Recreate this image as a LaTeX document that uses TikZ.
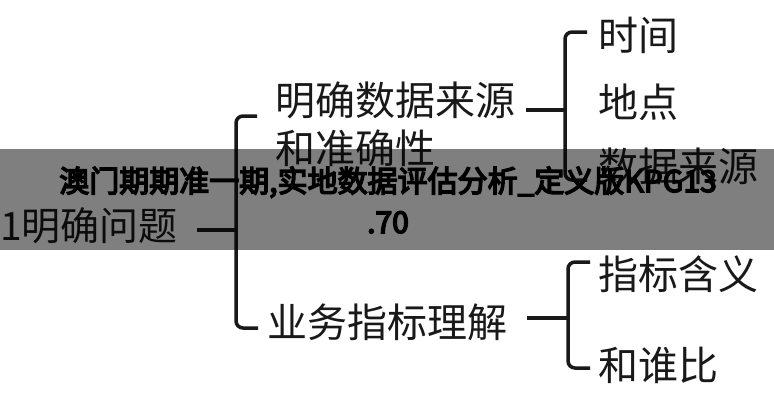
\documentclass[tikz,border=0pt]{standalone}
\usepackage{fontspec}
\setmainfont{Noto Sans CJK SC}
\newfontfamily\bandfont[FakeBold=5]{Noto Sans CJK SC}
\begin{document}
\begin{tikzpicture}[x=1pt,y=-1pt,
    item/.style={anchor=west,inner sep=0pt,text=black!90,font=\fontsize{40}{48}\selectfont},
    brace/.style={line width=3.5pt,black!90,rounded corners=7pt},
  ]
    \useasboundingbox[fill=white] (0,0) rectangle (774,400);
    % mind map
    \node[item,font=\fontsize{39}{48}\selectfont] (root) at (0,226) {1明确问题};
    \node[item,align=left,anchor=north west] (src) at (275,82) {明确数据来源\\和准确性};
    \node[item] (biz) at (267,322) {业务指标理解};
    \node[item] (time) at (598,35) {时间};
    \node[item] (place) at (598,102) {地点};
    \node[item] (origin) at (598,166) {数据来源};
    \node[item] (meaning) at (598,274) {指标含义};
    \node[item] (compare) at (598,365) {和谁比};
    \coordinate (rootout) at (197,230);
    \coordinate (mainjoin) at (236,230);
    \coordinate (srcout) at (526,110);
    \coordinate (srcjoin) at (565,110);
    \coordinate (bizout) at (527,318);
    \coordinate (bizjoin) at (568,318);
    \draw[brace] (rootout) -- (mainjoin);
    \draw[brace] (257,116) -| (mainjoin) |- (258,328);
    \draw[brace] (srcout) -- (srcjoin);
    \draw[brace] (587,32) -| (srcjoin) |- (587,180);
    \draw[brace] (bizout) -- (bizjoin);
    \draw[brace] (590,262) -| (bizjoin) |- (590,368);
    % grey band on top
    \fill[black,opacity=0.5] (0,149) rectangle (774,250);
    \node[align=center,inner sep=0pt,font=\bandfont\fontsize{30}{41}\selectfont] (title) at (388,200)
      {澳门期期准一期,实地数据评估分析\_定义版KPG13\\.70};
\end{tikzpicture}
\end{document}
